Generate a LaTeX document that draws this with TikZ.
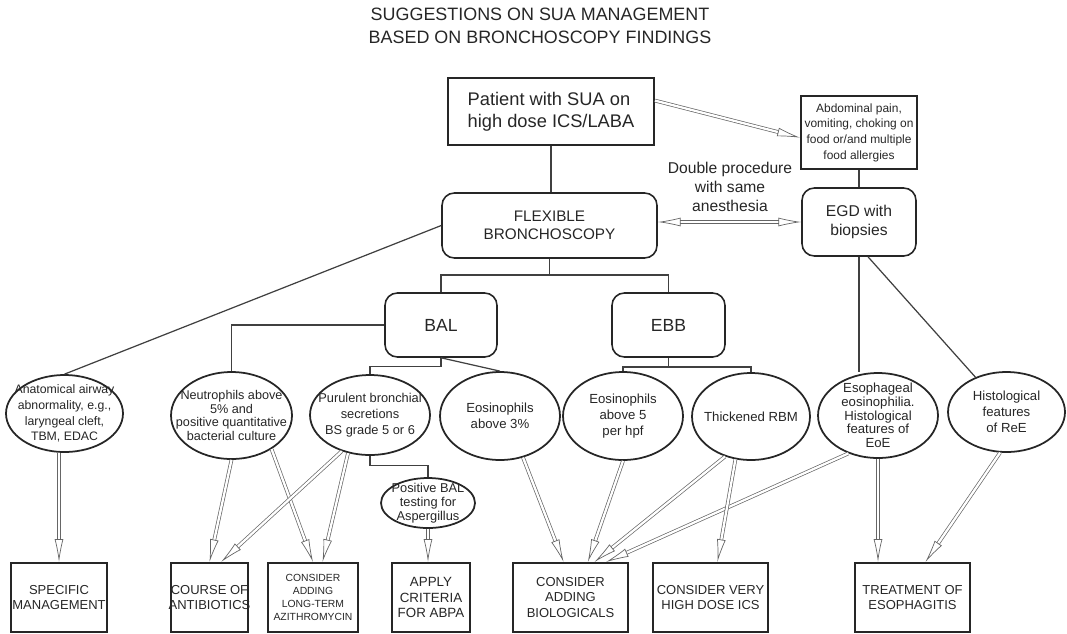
\documentclass[tikz,border=0pt]{standalone}
\usepackage{fontspec}
\setmainfont{Liberation Sans}
\usetikzlibrary{shapes.geometric,arrows.meta}

\tikzset{
  box/.style={rectangle, draw=black!85, line width=1.1pt, text=black!85, align=center, inner xsep=-8pt, inner ysep=0pt},
  rbox/.style={box, rounded corners=7pt, line width=0.9pt},
  oval/.style={ellipse, draw=black!85, line width=1pt, text=black!85, align=center, inner sep=-14pt},
  link/.style={draw=black!75, line width=0.7pt},
  dbl/.style={draw=black!60, line width=0.4pt, double=white, double distance=1.3pt, ->},
  dblboth/.style={dbl, <->},
  >={Latex[open,length=13pt,width=5pt]},
}

\begin{document}
\begin{tikzpicture}[x=0.02cm, y=-0.02cm]
	\useasboundingbox (0,0) rectangle (1067,633);

	% Title
	\node[align=center, text=black!85, font=\fontsize{10.2}{13}\selectfont] (title) at (540,26)
		{SUGGESTIONS ON SUA MANAGEMENT\\BASED ON BRONCHOSCOPY FINDINGS};

	% Top row
	\node[box, align=left, minimum width=4.12cm, minimum height=1.34cm, font=\fontsize{10.4}{12.3}\selectfont] (patient) at (551,111.5)
		{Patient with SUA on\\high dose ICS/LABA};
	\node[box, minimum width=2.32cm, minimum height=1.46cm, font=\fontsize{6.8}{8.9}\selectfont] (abdominal) at (859,132.5)
		{Abdominal pain,\\vomiting, choking on\\food or/and multiple\\food allergies};
	\node[rbox, minimum width=4.3cm, minimum height=1.3cm, font=\fontsize{8.7}{10.4}\selectfont] (flexible) at (549.5,225.5)
		{FLEXIBLE\\BRONCHOSCOPY};
	\node[rbox, minimum width=2.28cm, minimum height=1.36cm, font=\fontsize{8.9}{10.8}\selectfont] (egd) at (859,222)
		{EGD with\\biopsies};
	\node[align=center, text=black!85, font=\fontsize{8.9}{11}\selectfont] (note) at (730,187)
		{Double procedure\\with same\\anesthesia};
	\node[rbox, minimum width=2.24cm, minimum height=1.28cm, font=\fontsize{10}{12}\selectfont] (bal) at (441,325) {BAL};
	\node[rbox, minimum width=2.26cm, minimum height=1.28cm, font=\fontsize{10}{12}\selectfont] (ebb) at (668.5,325) {EBB};

	% Findings
	\node[oval, minimum width=2.34cm, minimum height=1.54cm, font=\fontsize{7}{9}\selectfont] (anat) at (64.5,413.5)
		{Anatomical airway\\abnormality, e.g.,\\laryngeal cleft,\\TBM, EDAC};
	\node[oval, minimum width=2.42cm, minimum height=1.74cm, font=\fontsize{7.2}{7.9}\selectfont] (neut) at (231.5,415.5)
		{Neutrophils above\\5\% and\\positive quantitative\\bacterial culture};
	\node[oval, minimum width=2.4cm, minimum height=1.6cm, font=\fontsize{7.3}{9}\selectfont] (pur) at (370,415)
		{Purulent bronchial\\secretions\\BS grade 5 or 6};
	\node[oval, minimum width=2.4cm, minimum height=1.76cm, font=\fontsize{7.5}{9}\selectfont] (eos3) at (500,416)
		{Eosinophils\\above 3\%};
	\node[oval, minimum width=2.4cm, minimum height=1.76cm, font=\fontsize{7.5}{9}\selectfont] (eos5) at (623,416)
		{Eosinophils\\above 5\\per hpf};
	\node[oval, minimum width=2.36cm, minimum height=1.74cm, font=\fontsize{7.5}{9}\selectfont] (rbm) at (751,416.5)
		{Thickened RBM};
	\node[oval, minimum width=2.4cm, minimum height=1.7cm, font=\fontsize{7.5}{7.8}\selectfont] (eoe) at (878,415.5)
		{Esophageal\\eosinophilia.\\Histological\\features of\\EoE};
	\node[oval, minimum width=2.34cm, minimum height=1.6cm, font=\fontsize{7.5}{9}\selectfont] (ree) at (1006.5,412)
		{Histological\\features\\of ReE};
	\node[oval, minimum width=1.88cm, minimum height=1cm, font=\fontsize{7.3}{7.8}\selectfont] (posbal) at (428,503)
		{Positive BAL\\testing for\\Aspergillus};

	% Management
	\node[box, minimum width=1.92cm, minimum height=1.38cm, font=\fontsize{7.4}{9}\selectfont] (specific) at (59,597.5)
		{SPECIFIC\\MANAGEMENT};
	\node[box, minimum width=1.54cm, minimum height=1.38cm, font=\fontsize{7.4}{9}\selectfont] (course) at (209.5,597.5)
		{COURSE OF\\ANTIBIOTICS};
	\node[box, minimum width=1.8cm, minimum height=1.38cm, font=\fontsize{5.9}{7.4}\selectfont] (azithro) at (313,597.5)
		{CONSIDER\\ADDING\\LONG-TERM\\AZITHROMYCIN};
	\node[box, minimum width=1.56cm, minimum height=1.38cm, font=\fontsize{7.6}{9}\selectfont] (apply) at (431,597.5)
		{APPLY\\CRITERIA\\FOR ABPA};
	\node[box, minimum width=2.3cm, minimum height=1.38cm, font=\fontsize{7.4}{9}\selectfont] (bio) at (570.5,597.5)
		{CONSIDER\\ADDING\\BIOLOGICALS};
	\node[box, minimum width=2.3cm, minimum height=1.38cm, font=\fontsize{7.4}{9}\selectfont] (vhigh) at (710.5,597.5)
		{CONSIDER VERY\\HIGH DOSE ICS};
	\node[box, minimum width=2.3cm, minimum height=1.38cm, font=\fontsize{7.4}{9}\selectfont] (treat) at (912.5,597.5)
		{TREATMENT OF\\ESOPHAGITIS};

	% Plain connectors
	\coordinate (flexsplit) at (549.5,275);
	\coordinate (ebbsplit) at (668.5,367);
	\draw[link] (patient.south) -- (patient.south |- flexible.north);
	\draw[link] (abdominal.south) -- (egd.north);
	\draw[link] (flexible.south) -- (flexsplit);
	\draw[link] (bal.north) |- (flexsplit) -| (ebb.north);
	\draw[link] (flexible.west) -- (anat.north);
	\draw[link] (bal.west) -| (neut.north);
	\draw[link] (bal.south) -- ++(0,9) -| (pur.north);
	\draw[link] (bal.south) -- (eos3.north);
	\draw[link] (ebb.south) -- (ebbsplit);
	\draw[link] (eos5.north) |- (ebbsplit) -| (rbm.north);
	\draw[link] (pur.south) -- ++(0,10) -| (posbal.north);
	\draw[link] (egd.south) -- (egd.south |- eoe.north);
	\draw[link] ([xshift=0.18cm]egd.south) -- (ree);

	% Double arrows
	\draw[dbl] (patient.6) -- (abdominal.185);
	\draw[dblboth] (flexible.east |- egd.west) -- (egd.west);
	\draw[dbl] (specific.north |- anat.south) -- (specific.north);
	\draw[dbl] (neut.south) -- (course.north);
	\draw[dbl] (neut.-40) -- (azithro.north);
	\draw[dbl] (pur.-128) -- (course.72);
	\draw[dbl] (pur.-120) -- (azithro.75);
	\draw[dbl] (posbal.south) -- (posbal.south |- apply.north);
	\draw[dbl] (eos3.-61) -- (bio.101);
	\draw[dbl] (eos5.south) -- (bio.64);
	\draw[dbl] (rbm.-123) -- (bio.56);
	\draw[dbl] (eoe.-128) -- (bio.45);
	\draw[dbl] (rbm.-110) -- (vhigh.79);
	\draw[dbl] (eoe.south) -- (eoe.south |- treat.north);
	\draw[dbl] (ree.-99) -- (treat.70);
\end{tikzpicture}
\end{document}
